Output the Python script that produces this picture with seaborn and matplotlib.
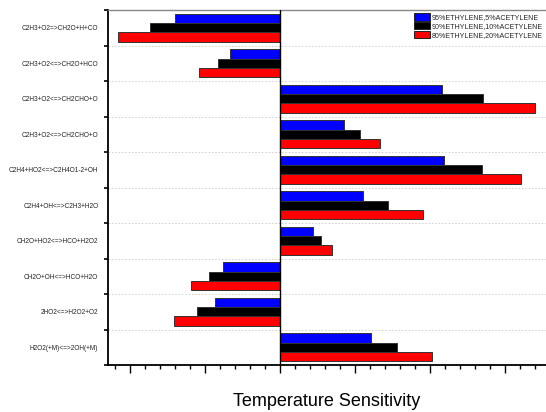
import matplotlib
matplotlib.use("Agg")
import matplotlib.pyplot as plt
from matplotlib.ticker import MultipleLocator, FixedLocator, NullFormatter
import pandas as pd
import seaborn as sns

reactions = [
    "C2H3+O2=>CH2O+H+CO",
    "C2H3+O2<=>CH2O+HCO",
    "C2H3+O2<=>CH2CHO+O",
    "C2H3+O2<=>CH2CHO+O ",
    "C2H4+HO2<=>C2H4O1-2+OH",
    "C2H4+OH<=>C2H3+H2O",
    "CH2O+HO2<=>HCO+H2O2",
    "CH2O+OH<=>HCO+H2O",
    "2HO2<=>H2O2+O2",
    "H2O2(+M)<=>2OH(+M)",
]
mixtures = [
    "95%ETHYLENE,5%ACETYLENE",
    "90%ETHYLENE,10%ACETYLENE",
    "80%ETHYLENE,20%ACETYLENE",
]
sens_95 = [-0.139, -0.066, 0.216, 0.085, 0.219, 0.111, 0.044, -0.076, -0.087, 0.122]
sens_90 = [-0.173, -0.083, 0.271, 0.107, 0.270, 0.144, 0.055, -0.094, -0.110, 0.156]
sens_80 = [-0.215, -0.108, 0.340, 0.134, 0.321, 0.191, 0.069, -0.119, -0.141, 0.203]
colors = ["#0000ff", "#000000", "#ff0000"]

rows = []
for mix, vals in zip(mixtures, [sens_95, sens_90, sens_80]):
    for r, v in zip(reactions, vals):
        rows.append({"reaction": r, "mixture": mix, "sensitivity": v})
df = pd.DataFrame(rows)

sns.set_theme(style="white")
plt.rcParams["font.family"] = ["Liberation Sans", "DejaVu Sans"]

fig = plt.figure(figsize=(5.46, 4.12), dpi=100)
ax = fig.add_axes([108 / 546, 47 / 412, 438 / 546, 355 / 412])

sns.barplot(data=df, y="reaction", x="sensitivity", hue="mixture",
            order=reactions, hue_order=mixtures, palette=colors,
            saturation=1, orient="h", width=0.8, edgecolor="#333333",
            linewidth=0.7, errorbar=None, ax=ax)

ax.set_xlim(-0.229, 0.355)
ax.set_ylim(len(reactions) - 0.5, -0.5)
ax.axvline(0, color="black", lw=1.0, zorder=5)

# category boundaries carry the tick marks and dotted guides; labels sit at centres
bounds = [k - 0.5 for k in range(len(reactions) + 1)]
ax.yaxis.set_major_locator(FixedLocator(bounds))
ax.yaxis.set_major_formatter(NullFormatter())
ax.yaxis.set_minor_locator(FixedLocator(list(range(len(reactions)))))
ax.set_yticklabels([r.strip() for r in reactions], minor=True, fontsize=4.7, color="#222222")
ax.tick_params(axis="y", which="major", length=3, width=1.2, direction="out", color="black", left=True)
ax.tick_params(axis="y", which="minor", length=0, pad=7)
for b in bounds[1:-1]:
    ax.axhline(b, color="#cccccc", lw=0.6, ls=(0, (2, 2)), zorder=0)

ax.xaxis.set_major_locator(MultipleLocator(0.1))
ax.xaxis.set_minor_locator(MultipleLocator(0.02))
ax.xaxis.set_major_formatter(NullFormatter())
ax.tick_params(axis="x", which="major", length=6, width=1.0, direction="out", color="black", bottom=True)
ax.tick_params(axis="x", which="minor", length=3, width=1.0, direction="out", color="black", bottom=True)

ax.set_ylabel("")
ax.set_xlabel("Temperature Sensitivity", fontsize=13, labelpad=11, color="black")

for side in ["left", "bottom"]:
    ax.spines[side].set_color("black")
    ax.spines[side].set_linewidth(1.3)
ax.spines["top"].set_color("#888888")
ax.spines["top"].set_linewidth(1.0)
ax.spines["right"].set_visible(False)

leg = ax.legend(loc="upper right", bbox_to_anchor=(1.0, 1.0), fontsize=5.1,
                frameon=False, handlelength=2.3, handleheight=1.3,
                handletextpad=0.3, labelspacing=0.1, borderaxespad=0.2,
                borderpad=0.2)
for h in leg.legend_handles:
    h.set_edgecolor("#222222")

fig.savefig("out.png", dpi=100)
